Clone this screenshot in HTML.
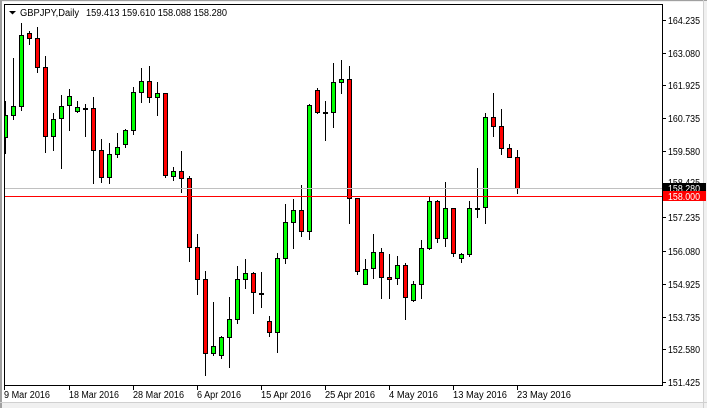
<!DOCTYPE html>
<html>
<head>
<meta charset="utf-8">
<style>
html,body{margin:0;padding:0;background:#fff;}
svg{display:block;}
text{font-family:"Liberation Sans",Arial,sans-serif;font-size:10px;fill:#000;}
.g{fill:#00ff00;stroke:#000;stroke-width:1;}
.r{fill:#ff0000;stroke:#000;stroke-width:1;}
</style>
</head>
<body>
<svg width="707" height="408" viewBox="0 0 707 408" xmlns="http://www.w3.org/2000/svg" shape-rendering="crispEdges">
<rect x="0" y="0" width="707" height="408" fill="#f0f0f0"/>
<rect x="2" y="2" width="701" height="400" fill="#ffffff"/>
<rect x="0" y="0" width="2" height="408" fill="#a0a0a0"/>
<rect x="0" y="0" width="707" height="1" fill="#a0a0a0"/>
<rect x="703" y="0" width="1" height="408" fill="#d0d0d0"/>
<rect x="0" y="402" width="707" height="1" fill="#d0d0d0"/>

<!-- header -->
<polygon points="9,11 16,11 12.5,14.5" fill="#000" shape-rendering="auto"/>
<text x="20" y="16" textLength="59" lengthAdjust="spacingAndGlyphs">GBPJPY,Daily</text>
<text x="86" y="16" textLength="141" lengthAdjust="spacingAndGlyphs">159.413 159.610 158.088 158.280</text>

<defs><clipPath id="plot"><rect x="5" y="5" width="657" height="380"/></clipPath></defs>

<g clip-path="url(#plot)">
<path fill="none" stroke="#000" stroke-width="1" d="M5.5 101V154M13.5 58V120M21.5 23V111M29.5 31V45M37.5 27V73M45.5 56V153M53.5 113V151M61.5 95V169M69.5 89V131M77.5 101V113M85.5 104V137M93.5 97V184M101.5 139V183M109.5 143V184M117.5 133V158M125.5 129V148M133.5 87V135M141.5 68V103M149.5 66V103M157.5 82V116M165.5 93V178M173.5 167V181M181.5 151V193M189.5 176V262M197.5 234V295M205.5 271V376M213.5 302V356M221.5 336V359M229.5 297V368M237.5 266V324M245.5 259V289M253.5 272V314M261.5 272V308M269.5 316V337M277.5 253V353M285.5 204V264M293.5 199V249M301.5 185V237M309.5 104V240M317.5 88V114M325.5 101V141M333.5 63V128M341.5 60V94M349.5 66V224M357.5 198V275M365.5 259V285M373.5 234V279M381.5 248V299M389.5 254V299M397.5 256V285M405.5 263V320M413.5 281V302M421.5 240V299M429.5 197V250M437.5 200V243M445.5 182V247M453.5 208V257M461.5 253V263M469.5 201V257M477.5 168V218M485.5 113V224M493.5 93V137M501.5 109V155M509.5 144V158M517.5 150V194"/>

<rect class="g" x="3.5" y="115.5" width="4" height="22"/>
<rect class="g" x="11.5" y="106.5" width="4" height="9"/>
<rect class="g" x="19.5" y="35.5" width="4" height="71"/>
<rect class="r" x="27.5" y="33.5" width="4" height="5"/>
<rect class="r" x="35.5" y="38.5" width="4" height="29"/>
<rect class="r" x="43.5" y="67.5" width="4" height="69"/>
<rect class="g" x="51.5" y="119.5" width="4" height="17"/>
<rect class="g" x="59.5" y="106.5" width="4" height="12"/>
<rect class="g" x="67.5" y="96.5" width="4" height="9"/>
<rect class="g" x="75.5" y="107.5" width="4" height="4"/>
<rect x="83" y="108" width="5" height="2" fill="#000"/>
<rect class="r" x="91.5" y="108.5" width="4" height="42"/>
<rect class="r" x="99.5" y="150.5" width="4" height="27"/>
<rect class="g" x="107.5" y="154.5" width="4" height="23"/>
<rect class="g" x="115.5" y="147.5" width="4" height="7"/>
<rect class="g" x="123.5" y="130.5" width="4" height="14"/>
<rect class="g" x="131.5" y="92.5" width="4" height="38"/>
<rect class="g" x="139.5" y="81.5" width="4" height="11"/>
<rect class="r" x="147.5" y="81.5" width="4" height="16"/>
<rect class="g" x="155.5" y="93.5" width="4" height="4"/>
<rect class="r" x="163.5" y="93.5" width="4" height="82"/>
<rect class="g" x="171.5" y="171.5" width="4" height="5"/>
<rect class="r" x="179.5" y="171.5" width="4" height="7"/>
<rect class="r" x="187.5" y="178.5" width="4" height="69"/>
<rect class="r" x="195.5" y="247.5" width="4" height="32"/>
<rect class="r" x="203.5" y="279.5" width="4" height="74"/>
<rect class="g" x="211.5" y="346.5" width="4" height="7"/>
<rect class="g" x="219.5" y="337.5" width="4" height="18"/>
<rect class="g" x="227.5" y="319.5" width="4" height="18"/>
<rect class="g" x="235.5" y="279.5" width="4" height="40"/>
<rect class="g" x="243.5" y="273.5" width="4" height="6"/>
<rect class="r" x="251.5" y="273.5" width="4" height="19"/>
<rect x="259" y="293" width="5" height="2" fill="#000"/>
<rect class="r" x="267.5" y="321.5" width="4" height="11"/>
<rect class="g" x="275.5" y="258.5" width="4" height="74"/>
<rect class="g" x="283.5" y="222.5" width="4" height="36"/>
<rect class="g" x="291.5" y="210.5" width="4" height="12"/>
<rect class="r" x="299.5" y="210.5" width="4" height="21"/>
<rect class="g" x="307.5" y="105.5" width="4" height="126"/>
<rect class="r" x="315.5" y="90.5" width="4" height="22"/>
<rect x="323" y="112" width="5" height="2" fill="#000"/>
<rect class="g" x="331.5" y="82.5" width="4" height="30"/>
<rect class="g" x="339.5" y="79.5" width="4" height="3"/>
<rect class="r" x="347.5" y="79.5" width="4" height="119"/>
<rect class="r" x="355.5" y="198.5" width="4" height="73"/>
<rect class="g" x="363.5" y="269.5" width="4" height="15"/>
<rect class="g" x="371.5" y="252.5" width="4" height="16"/>
<rect class="r" x="379.5" y="252.5" width="4" height="25"/>
<rect class="r" x="387.5" y="277.5" width="4" height="2"/>
<rect class="g" x="395.5" y="265.5" width="4" height="13"/>
<rect class="r" x="403.5" y="265.5" width="4" height="32"/>
<rect class="g" x="411.5" y="284.5" width="4" height="16"/>
<rect class="g" x="419.5" y="248.5" width="4" height="36"/>
<rect class="g" x="427.5" y="201.5" width="4" height="47"/>
<rect class="r" x="435.5" y="201.5" width="4" height="37"/>
<rect class="g" x="443.5" y="208.5" width="4" height="30"/>
<rect class="r" x="451.5" y="208.5" width="4" height="45"/>
<rect class="g" x="459.5" y="254.5" width="4" height="4"/>
<rect class="g" x="467.5" y="208.5" width="4" height="46"/>
<rect x="475" y="208" width="5" height="2" fill="#000"/>
<rect class="g" x="483.5" y="117.5" width="4" height="90"/>
<rect class="r" x="491.5" y="117.5" width="4" height="9"/>
<rect class="r" x="499.5" y="126.5" width="4" height="22"/>
<rect class="r" x="507.5" y="148.5" width="4" height="9"/>
<rect class="r" x="515.5" y="157.5" width="4" height="31"/>

<!-- bid line & horizontal line -->
<rect x="5" y="188" width="657" height="1" fill="#c0c0c0"/>
<rect x="5" y="196" width="657" height="1" fill="#ff0000"/>
</g>

<!-- frame -->
<rect x="4.5" y="4.5" width="658" height="381" fill="none" stroke="#000" stroke-width="1"/>

<!-- price ticks -->
<path stroke="#000" stroke-width="1" d="M663 20.5H666M663 53.5H666M663 85.5H666M663 118.5H666M663 151.5H666M663 184.5H666M663 217.5H666M663 251.5H666M663 284.5H666M663 317.5H666M663 349.5H666M663 382.5H666"/>
<g>
<text x="668" y="24" textLength="32" lengthAdjust="spacingAndGlyphs">164.235</text>
<text x="668" y="57" textLength="32" lengthAdjust="spacingAndGlyphs">163.080</text>
<text x="668" y="89" textLength="32" lengthAdjust="spacingAndGlyphs">161.925</text>
<text x="668" y="122" textLength="32" lengthAdjust="spacingAndGlyphs">160.735</text>
<text x="668" y="155" textLength="32" lengthAdjust="spacingAndGlyphs">159.580</text>
<text x="668" y="186" textLength="32" lengthAdjust="spacingAndGlyphs">158.425</text>
<text x="668" y="221" textLength="32" lengthAdjust="spacingAndGlyphs">157.235</text>
<text x="668" y="255" textLength="32" lengthAdjust="spacingAndGlyphs">156.080</text>
<text x="668" y="288" textLength="32" lengthAdjust="spacingAndGlyphs">154.925</text>
<text x="668" y="321" textLength="32" lengthAdjust="spacingAndGlyphs">153.735</text>
<text x="668" y="353" textLength="32" lengthAdjust="spacingAndGlyphs">152.580</text>
<text x="668" y="386" textLength="32" lengthAdjust="spacingAndGlyphs">151.425</text>
</g>

<!-- current price labels -->
<rect x="663" y="183" width="43" height="10" fill="#000"/>
<text x="668" y="192" textLength="32" lengthAdjust="spacingAndGlyphs" style="fill:#fff">158.280</text>
<rect x="663" y="191" width="43" height="10" fill="#ff0000"/>
<text x="668" y="200" textLength="32" lengthAdjust="spacingAndGlyphs" style="fill:#fff">158.000</text>

<!-- date ticks -->
<path stroke="#000" stroke-width="1" d="M4.5 386V390M69.5 386V390M133.5 386V390M197.5 386V390M261.5 386V390M325.5 386V390M389.5 386V390M453.5 386V390M517.5 386V390"/>
<text x="4" y="398" textLength="46" lengthAdjust="spacingAndGlyphs">9 Mar 2016</text>
<text x="69" y="398" textLength="50" lengthAdjust="spacingAndGlyphs">18 Mar 2016</text>
<text x="133" y="398" textLength="51" lengthAdjust="spacingAndGlyphs">28 Mar 2016</text>
<text x="197" y="398" textLength="44" lengthAdjust="spacingAndGlyphs">6 Apr 2016</text>
<text x="261" y="398" textLength="50" lengthAdjust="spacingAndGlyphs">15 Apr 2016</text>
<text x="325" y="398" textLength="50" lengthAdjust="spacingAndGlyphs">25 Apr 2016</text>
<text x="389" y="398" textLength="49" lengthAdjust="spacingAndGlyphs">4 May 2016</text>
<text x="453" y="398" textLength="54" lengthAdjust="spacingAndGlyphs">13 May 2016</text>
<text x="517" y="398" textLength="54" lengthAdjust="spacingAndGlyphs">23 May 2016</text>
</svg>
</body>
</html>
